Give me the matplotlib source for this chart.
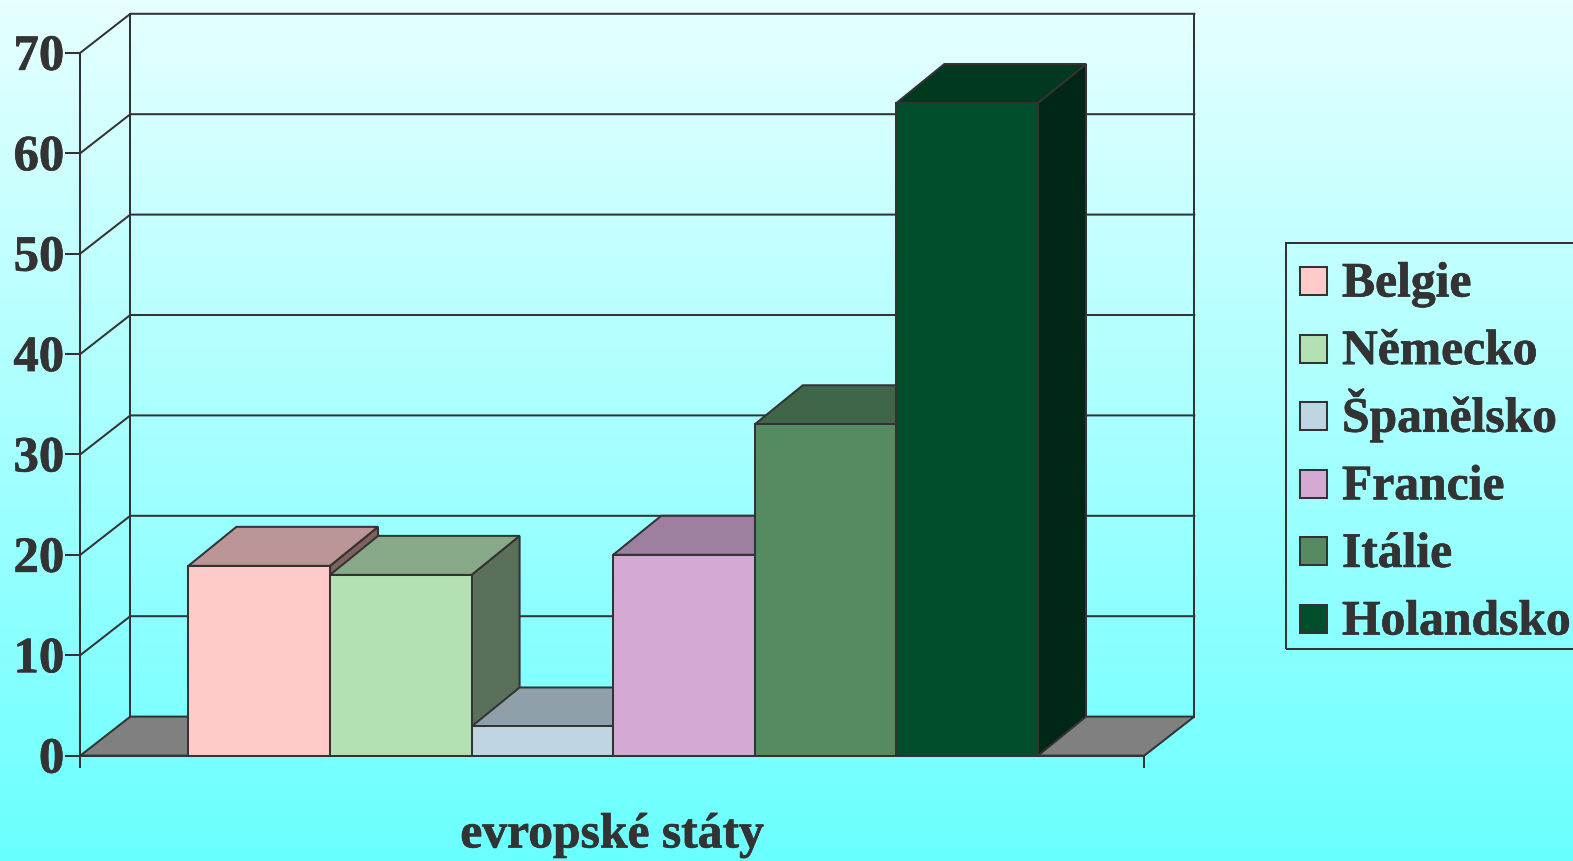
import numpy as np
import matplotlib
matplotlib.use("Agg")
import matplotlib.pyplot as plt
import matplotlib.patheffects as pe
from matplotlib.patches import Polygon, Rectangle

countries = ['Belgie', 'Německo', 'Španělsko', 'Francie', 'Itálie', 'Holandsko']
values = [18.9, 18, 2.9, 20, 33, 65]
y_ticks = [0, 10, 20, 30, 40, 50, 60, 70]
axis_title = 'evropské státy'

front_colors = ['#FFCACA', '#B4E1B4', '#C0D5E2', '#D4A9D4', '#568B62', '#004D2B']
top_colors = ['#BC9696', '#87A987', '#90A0AA', '#9F7F9F', '#3F6649', '#00391F']
side_colors = ['#806060', '#5A705A', '#627078', '#6E586E', '#2B4632', '#002615']

INK = '#333333'
LW = 1.45
W, H = 1573, 861

# pixel scale of the chart
BAR_PX = 141.6
UNIT_PX = 10.04
LEFT_PX = 188.4
BASE_PX = 755.6

x_left = (80.3 - LEFT_PX) / BAR_PX
x_right = (1144.3 - LEFT_PX) / BAR_PX
bar_dx = 48 / BAR_PX
wall_dx = 50 / BAR_PX
depth_y = 39 / UNIT_PX

plt.rcParams['font.family'] = ['Liberation Serif', 'DejaVu Serif']
plt.rcParams['font.weight'] = 'bold'

fig = plt.figure(figsize=(W / 100, H / 100), dpi=100)

bg = fig.add_axes([0, 0, 1, 1], zorder=0)
gradient = np.linspace(0, 1, 256).reshape(-1, 1, 1)
top_rgb = np.array([230, 255, 255]) / 255
bottom_rgb = np.array([106, 255, 255]) / 255
bg.imshow(top_rgb + (bottom_rgb - top_rgb) * gradient, aspect='auto')
bg.axis('off')

ax = fig.add_axes([0, 0, 1, 1], zorder=1)
ax.patch.set_alpha(0)
ax.set_xlim(-LEFT_PX / BAR_PX, (W - LEFT_PX) / BAR_PX)
ax.set_ylim(-(H - BASE_PX) / UNIT_PX, BASE_PX / UNIT_PX)
ax.axis('off')

heavy = [pe.withStroke(linewidth=0.5, foreground=INK)]


def px_x(px):
    return (px - LEFT_PX) / BAR_PX


def px_y(py):
    return (BASE_PX - py) / UNIT_PX


def line(xs, ys, z=1):
    ax.plot(xs, ys, color=INK, lw=LW, zorder=z, solid_capstyle='projecting')


def face(points, color, z=3):
    ax.add_patch(Polygon(points, closed=True, facecolor=color, edgecolor=INK,
                         lw=LW, zorder=z, joinstyle='miter'))


# floor
face([(x_left, 0), (x_right, 0), (x_right + wall_dx, depth_y), (x_left + wall_dx, depth_y)],
     '#808080', z=2)

# gridlines on the two walls
for tick in y_ticks[1:]:
    line([x_left, x_left + wall_dx, x_right + wall_dx], [tick, tick + depth_y, tick + depth_y])
line([x_left, x_left], [0, 70])
line([x_left + wall_dx, x_left + wall_dx], [depth_y, 70 + depth_y])
line([x_right + wall_dx, x_right + wall_dx], [depth_y, 70 + depth_y])

# ticks and axis lines
for tick in y_ticks:
    line([x_left - 14 / BAR_PX, x_left], [tick, tick])
    ax.text(x_left - 16 / BAR_PX, tick - 0.5, str(tick), ha='right', va='center',
            fontsize=36.5, color=INK, fontweight='bold', zorder=6, path_effects=heavy)
line([x_left, x_right], [0, 0], z=5)
line([x_left, x_left], [0, -1.1], z=5)
line([x_right, x_right], [0, -1.1], z=5)

# bars, left to right so each one overlaps the side of the previous
for i, val in enumerate(values):
    z = 3 + i * 0.1
    x0, x1 = i, i + 1
    face([(x1, 0), (x1 + bar_dx, depth_y), (x1 + bar_dx, val + depth_y), (x1, val)],
         side_colors[i], z)
    face([(x0, val), (x1, val), (x1 + bar_dx, val + depth_y), (x0 + bar_dx, val + depth_y)],
         top_colors[i], z)
    face([(x0, 0), (x1, 0), (x1, val), (x0, val)], front_colors[i], z)

ax.text((x_left + x_right) / 2, -7.95, axis_title, ha='center', va='center',
        fontsize=35.7, color=INK, fontweight='bold', path_effects=heavy)

# legend drawn by hand, rows are evenly spaced in the reference
ax.add_patch(Rectangle((px_x(1286), px_y(649)), px_x(1600) - px_x(1286), px_y(243) - px_y(649),
                       facecolor='none', edgecolor=INK, lw=LW, zorder=7))
for i, name in enumerate(countries):
    cy = 281 + i * 67.6
    ax.add_patch(Rectangle((px_x(1300), px_y(cy + 14)), px_x(1327) - px_x(1300), 28 / UNIT_PX,
                           facecolor=front_colors[i], edgecolor=INK, lw=LW, zorder=7))
    ax.text(px_x(1342), px_y(cy + 15.5), name, ha='left', va='baseline', fontsize=35.7,
            color=INK, fontweight='bold', zorder=7, path_effects=heavy)

fig.savefig('out.png', dpi=100)
